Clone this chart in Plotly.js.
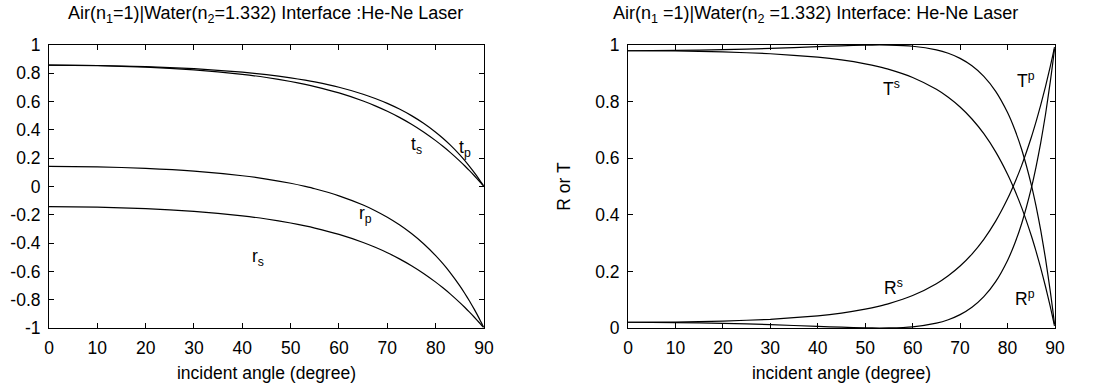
<!DOCTYPE html>
<html><head><meta charset="utf-8">
<script src="https://cdn.plot.ly/plotly-3.0.1.min.js"></script>
<style>html,body{margin:0;padding:0;background:#fff}#chart{width:1101px;height:389px}</style>
</head><body><div id="chart"></div>
<script>
// incident angle (degree)
var angle = [0,10,20,30,40,45,50,53,55,60,65,67.5,70,72.5,75,77.5,80,81.5,83,85,86,87,88,89,89.5,89.9];
// amplitude coefficients
var r_s = [-0.1424,-0.1457,-0.1561,-0.1755,-0.2073,-0.2297,-0.2580,-0.2783,-0.2936,-0.3386,-0.3957,-0.4298,-0.4681,-0.5113,-0.5598,-0.6144,-0.6756,-0.7158,-0.7587,-0.8205,-0.8535,-0.8879,-0.9238,-0.9611,-0.9804,-0.9960];
var r_p = [0.1424,0.1391,0.1286,0.1090,0.0762,0.0528,0.0228,0.0008,-0.0158,-0.0658,-0.1311,-0.1712,-0.2174,-0.2708,-0.3327,-0.4047,-0.4886,-0.5457,-0.6085,-0.7023,-0.7541,-0.8094,-0.8686,-0.9320,-0.9654,-0.9930];
var t_s = [0.8576,0.8543,0.8439,0.8246,0.7927,0.7703,0.7421,0.7217,0.7064,0.6614,0.6043,0.5702,0.5319,0.4887,0.4402,0.3856,0.3244,0.2842,0.2413,0.1795,0.1465,0.1121,0.0762,0.0389,0.0196,0.0040];
var t_p = [0.8576,0.8552,0.8473,0.8326,0.8080,0.7904,0.7678,0.7514,0.7389,0.7014,0.6523,0.6222,0.5875,0.5474,0.5010,0.4469,0.3839,0.3411,0.2939,0.2235,0.1846,0.1431,0.0986,0.0510,0.0260,0.0053];
// power coefficients
var R_s = [0.0203,0.0212,0.0244,0.0308,0.0430,0.0528,0.0665,0.0775,0.0862,0.1147,0.1566,0.1847,0.2191,0.2614,0.3134,0.3775,0.4564,0.5123,0.5756,0.6733,0.7285,0.7884,0.8533,0.9237,0.9611,0.9921];
var R_p = [0.0203,0.0193,0.0165,0.0119,0.0058,0.0028,0.0005,0.0000,0.0002,0.0043,0.0172,0.0293,0.0473,0.0734,0.1107,0.1638,0.2388,0.2978,0.3702,0.4932,0.5686,0.6551,0.7545,0.8687,0.9320,0.9860];
var T_s = [0.9797,0.9788,0.9756,0.9692,0.9570,0.9472,0.9335,0.9225,0.9138,0.8853,0.8434,0.8153,0.7809,0.7386,0.6866,0.6225,0.5436,0.4877,0.4244,0.3267,0.2715,0.2116,0.1467,0.0763,0.0389,0.0079];
var T_p = [0.9797,0.9807,0.9835,0.9881,0.9942,0.9972,0.9995,1.0000,0.9998,0.9957,0.9828,0.9707,0.9527,0.9266,0.8893,0.8362,0.7612,0.7022,0.6298,0.5068,0.4314,0.3449,0.2455,0.1313,0.0680,0.0140];
// ticks
var xTicks = [0,10,20,30,40,50,60,70,80,90];
var yTicksLeft = [-1,-0.8,-0.6,-0.4,-0.2,0,0.2,0.4,0.6,0.8,1];
var yTickTextLeft = ["-1","-0.8","-0.6","-0.4","-0.2","0","0.2","0.4","0.6","0.8","1"];
var yTicksRight = [0,0.2,0.4,0.6,0.8,1];
var yTickTextRight = ["0","0.2","0.4","0.6","0.8","1"];

var FONT = "Liberation Sans, Arial, sans-serif";
var FS = 17.5;
var lineStyle = {color:"#000", width:1.2, shape:"spline", smoothing:0.5};
function tr(y, xa, ya){ return {x:angle, y:y, mode:"lines", line:lineStyle, xaxis:xa, yaxis:ya, showlegend:false, hoverinfo:"skip"}; }
var data = [
  tr(t_s,"x","y"), tr(t_p,"x","y"), tr(r_s,"x","y"), tr(r_p,"x","y"),
  tr(T_s,"x2","y2"), tr(T_p,"x2","y2"), tr(R_s,"x2","y2"), tr(R_p,"x2","y2")
];
function xax(dom, anchor){
  return {domain:dom, anchor:anchor, range:[0,90], tickvals:xTicks, ticks:"inside", ticklen:5, tickcolor:"#000",
    mirror:"allticks", showline:true, linecolor:"#000", linewidth:1, showgrid:false, zeroline:false,
    tickfont:{family:FONT,size:FS,color:"#000"}, ticklabelstandoff:4,
    title:{text:"incident angle (degree)", font:{family:FONT,size:FS,color:"#000"}, standoff:9}};
}
function yax(dom, anchor, rng, vals, txt){
  return {domain:dom, anchor:anchor, range:rng, tickvals:vals, ticktext:txt, ticks:"inside", ticklen:5, tickcolor:"#000",
    mirror:"allticks", showline:true, linecolor:"#000", linewidth:1, showgrid:false, zeroline:false,
    tickfont:{family:FONT,size:FS,color:"#000"}, ticklabelstandoff:4};
}
var yDom = [0.1568, 0.8843];
function ann(xr, yr, x, y, t, fs){ return {xref:xr,yref:yr,x:x,y:y,text:t,showarrow:false,font:{family:FONT,size:fs||FS,color:"#000"}}; }
var layout = {
  width:1101, height:389, margin:{l:0,r:0,t:0,b:0}, paper_bgcolor:"#fff", plot_bgcolor:"#fff",
  font:{family:FONT, color:"#000"},
  xaxis: xax([0.0445,0.4396],"y"),
  yaxis: yax(yDom,"x",[-1,1],yTicksLeft,yTickTextLeft),
  xaxis2: xax([0.5704,0.9582],"y2"),
  yaxis2: Object.assign(yax(yDom,"x2",[0,1],yTicksRight,yTickTextRight),
     {title:{text:"R or T", font:{family:FONT,size:FS,color:"#000"}, standoff:20}}),
  annotations:[
    Object.assign(ann("paper","paper",265.5/1101,1-14/389,"Air(n<sub>1</sub>=1)|Water(n<sub>2</sub>=1.332) Interface :He-Ne Laser",18),{xanchor:"center",yanchor:"middle"}),
    Object.assign(ann("paper","paper",815/1101,1-14/389,"Air(n<sub>1</sub> =1)|Water(n<sub>2</sub> =1.332) Interface: He-Ne Laser",18),{xanchor:"center",yanchor:"middle"}),
    ann("x","y",76.1,0.29,"t<sub>s</sub>"),
    ann("x","y",86.1,0.27,"t<sub>p</sub>"),
    ann("x","y",65.4,-0.2,"r<sub>p</sub>"),
    ann("x","y",43.2,-0.5,"r<sub>s</sub>"),
    ann("x2","y2",55.6,0.848,"T<sup>s</sup>"),
    ann("x2","y2",83.9,0.876,"T<sup>p</sup>"),
    ann("x2","y2",55.9,0.145,"R<sup>s</sup>"),
    ann("x2","y2",83.7,0.106,"R<sup>p</sup>")
  ]
};
Plotly.newPlot("chart", data, layout, {staticPlot:true, displayModeBar:false});
</script>
</body></html>
